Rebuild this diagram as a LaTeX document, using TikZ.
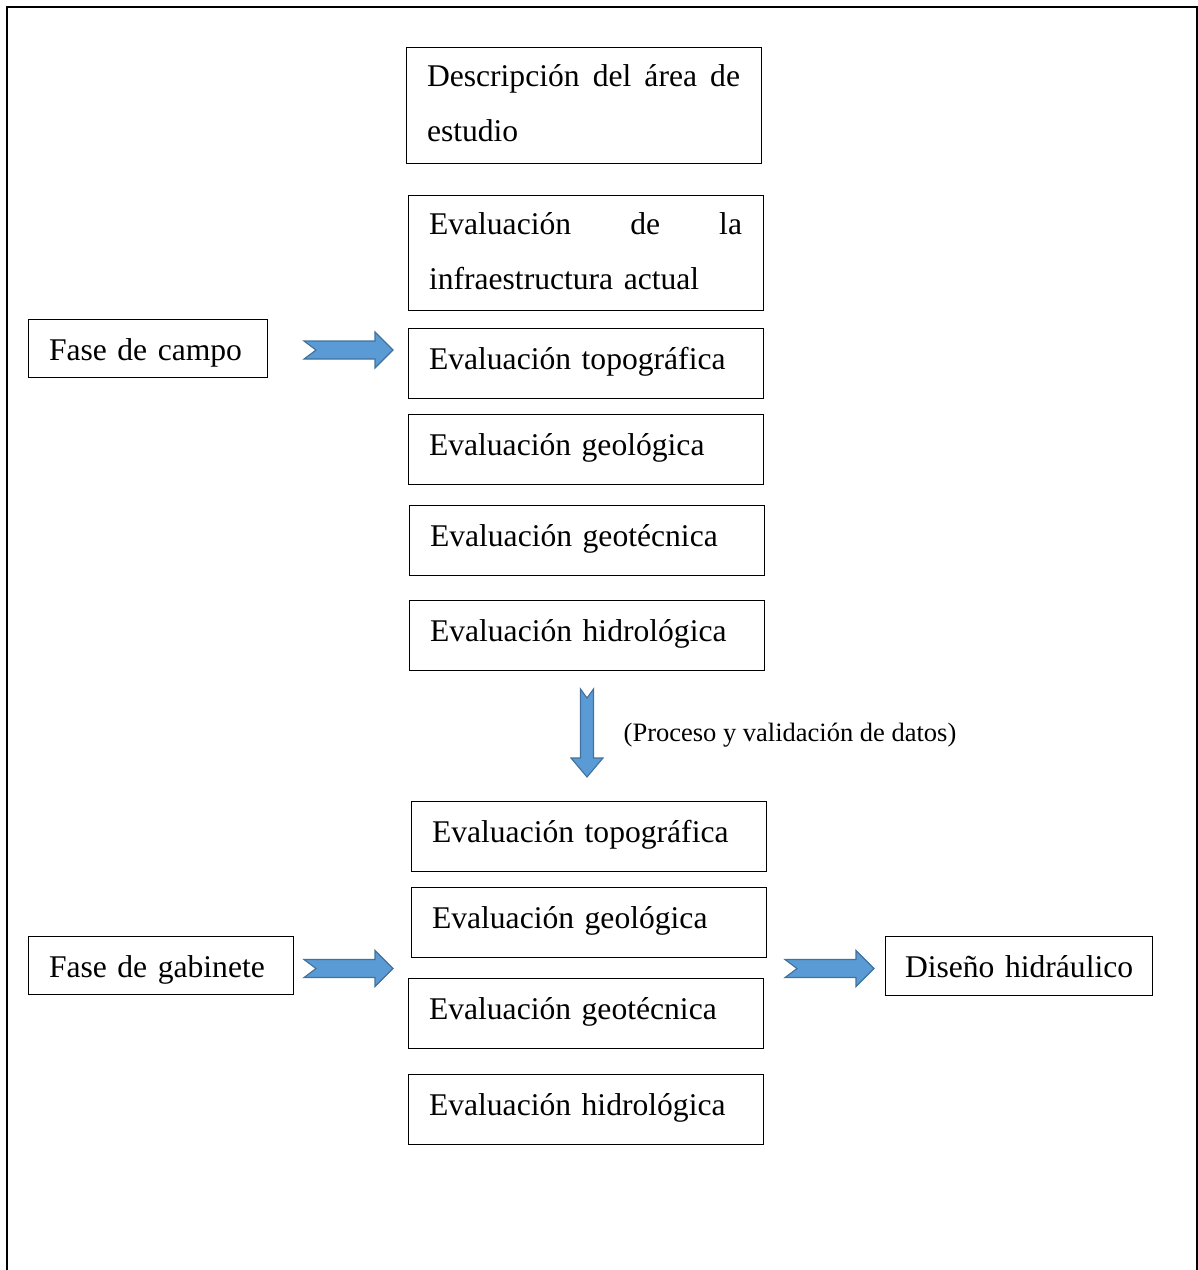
\documentclass[tikz,border=0pt]{standalone}
\usepackage{fontspec}
\setmainfont{Liberation Serif}
\usepackage{tikz}
\usetikzlibrary{positioning}
\definecolor{flechaAzul}{RGB}{91,155,213}
\definecolor{flechaBorde}{RGB}{65,113,156}
\newcommand{\cajafont}{\fontsize{31.6pt}{55pt}\selectfont}
\newcommand{\notafont}{\fontsize{26.5pt}{32pt}\selectfont}
\tikzset{
  caja/.style={draw,line width=1pt,anchor=north west,inner xsep=21pt,inner ysep=0pt,
               align=left,font=\cajafont},
  evbox/.style={caja,text width=313pt,text height=41pt,text depth=29pt},
  evbig/.style={caja,text width=313pt,text height=39pt,text depth=77pt},
  fase/.style={caja,text height=40.5pt,text depth=17.5pt},
  nota/.style={anchor=base west,inner sep=0pt,font=\notafont},
  flecha/.style={fill=flechaAzul,draw=flechaBorde,line width=1.1pt,line join=miter},
  flechader/.pic={
    \draw[flecha](0,-9)--(71,-9)--(71,-18)--(89,0)--(71,18)--(71,9)--(0,9)--(12,0)--cycle;
  },
  flechaabajo/.pic={
    \draw[flecha](-6.5,0)--(-6.5,69)--(-16,69)--(0,88)--(16,69)--(6.5,69)--(6.5,0)--(0,9)--cycle;
  },
}
\begin{document}
\begin{tikzpicture}[x=1pt,y=-1pt]
    \useasboundingbox (0,0) rectangle (1198,1270);
    \draw[line width=2.5pt](7.2,1270)--(7.2,7.2)--(1197.2,7.2)--(1197.2,1270);
    % fase de campo
    \node[evbig] (desc) at (405.5,47){Descripción\hfill del\hfill área\hfill de\\estudio};
    \node[evbig,text depth=76pt] (infra) at (407.5,195){Evaluación\hfill de\hfill la\\infraestructura actual};
    \node[evbox] (topo1) at (407.5,328){Evaluación topográfica};
    \node[evbox] (geol1) at (407.5,414){Evaluación geológica};
    \node[evbox] (geot1) at (408.5,505){Evaluación geotécnica};
    \node[evbox] (hidr1) at (408.5,600){Evaluación hidrológica};
    \node[fase,text width=197pt] (campo) at (27.5,319){Fase~de~campo};
    \pic at (304,350){flechader};
    % proceso
    \pic at (587,689){flechaabajo};
    \node[nota] (proceso) at (623.5,741){(Proceso y validación de datos)};
    % fase de gabinete
    \node[evbox] (topo2) at (410.5,801){Evaluación topográfica};
    \node[evbox] (geol2) at (410.5,887){Evaluación geológica};
    \node[evbox] (geot2) at (407.5,978){Evaluación geotécnica};
    \node[evbox] (hidr2) at (407.5,1074){Evaluación hidrológica};
    \node[fase,text width=223pt] (gabinete) at (27.5,936){Fase~de~gabinete};
    \pic at (304,968.5){flechader};
    \pic at (785,968.5){flechader};
    \node[fase,inner xsep=20pt,text width=227pt,text depth=18.5pt] (diseno) at (884.5,936){Diseño~hidráulico};
  \end{tikzpicture}
\end{document}
